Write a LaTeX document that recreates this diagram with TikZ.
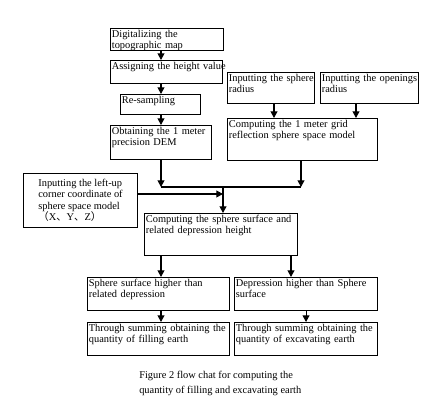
\documentclass[tikz,border=0pt]{standalone}
\usepackage{fontspec}
\setmainfont{Liberation Serif}
\newfontfamily\cjk{Noto Sans CJK SC}
\usetikzlibrary{arrows.meta}

\begin{document}
\begin{tikzpicture}[
    x=0.75pt, y=-0.75pt,
    framed/.style={draw, line width=0.8pt, anchor=north west, align=left,
      font=\fontsize{7.8}{8.3}\selectfont},
    box/.style={framed, inner xsep=1pt, inner ysep=0.75pt, text height=6pt},
    arrow/.style={-{Triangle[width=5.2pt,length=5pt]}, line width=0.8pt},
    note/.style={anchor=north west, align=left, inner sep=0pt,
      font=\fontsize{7.8}{11.25}\selectfont},
  ]
    \useasboundingbox (0,0) rectangle (433,406);
    % left column
    \node[box, text width=82.75pt, text depth=9pt]  (dig)    at (110,28)  {Digitalizing the\\topographic map};
    \node[box, text width=82pt, text depth=9.75pt]  (assign) at (110,60)  {\mbox{Assigning the height value}};
    \node[box, text width=58pt, text depth=7.5pt]   (resamp) at (120,94)  {Re-sampling};
    \node[box, text width=73.75pt, text depth=18pt] (dem)    at (110,125) {Obtaining the 1 meter\\precision DEM};
    % right column
    \node[box, text width=63.25pt, text depth=15.75pt] (sradius) at (227,72)  {\mbox{Inputting the sphere}\\radius};
    \node[box, text width=71.5pt, text depth=15.75pt]  (oradius) at (320,72)  {\mbox{Inputting the openings}\\radius};
    \node[box, text width=110.5pt, text depth=24pt]    (grid)    at (227,118) {Computing the 1 meter grid\\reflection sphere space model};
    % corner input
    \node[framed, minimum width=85.5pt, minimum height=40.5pt,
      font=\fontsize{7.8}{8.6}\selectfont] (corner) at (23,173)
      {Inputting the left-up\\corner coordinate of\\sphere space model\\{\cjk （}X{\cjk 、}Y{\cjk 、}Z{\cjk ）}};
    % lower part
    \node[box, text width=112.75pt, text depth=24pt]   (surf)   at (144,213) {Computing the sphere surface and\\related depression height};
    \node[box, text width=104.5pt, text depth=17.25pt] (higher) at (87,277)  {Sphere surface higher than\\related depression};
    \node[box, text width=105.25pt, text depth=17.25pt] (deeper) at (234,277) {Depression higher than Sphere\\surface};
    \node[box, text width=104.5pt, text depth=17.25pt] (fill)   at (87,322)  {Through summing obtaining the\\quantity of filling earth};
    \node[box, text width=105.25pt, text depth=17.25pt] (excav)  at (234,322) {Through summing obtaining the\\quantity of excavating earth};
    \node[note] (caption) at (139,371) {Figure 2 flow chat for computing the\\quantity of filling and excavating earth};

    \coordinate (jl) at (161,187);
    \coordinate (jm) at (223,187);
    \coordinate (jr) at (301,187);
    \coordinate (ja) at (223,194);
    \coordinate (cs) at (274,110);
    \coordinate (co) at (356,110);
    \coordinate (cd) at (291,266);

    \draw[arrow] (dig.south -| jl)    -- (assign.north -| jl);
    \draw[arrow] (assign.south -| jl) -- (resamp.north -| jl);
    \draw[arrow] (resamp.south -| jl) -- (dem.north -| jl);
    \draw[arrow] (dem.south -| jl)    -- (jl);
    \draw[arrow] (sradius.south -| cs) -- (grid.north -| cs);
    \draw[arrow] (oradius.south -| co) -- (grid.north -| co);
    \draw[arrow] (grid.south -| jr)   -- (jr);
    \draw[line width=0.8pt] (jl) -- (jr);
    \draw[arrow] (corner.east |- ja)  -- (ja);
    \draw[arrow] (jm) -- (surf.north -| jm);
    \draw[arrow] (surf.south -| jl)   -- (higher.north -| jl);
    \draw[arrow] (surf.south -| cd)   -- (deeper.north -| cd);
    \draw[arrow] (higher.south -| jl) -- (fill.north -| jl);
    \draw[arrow] (deeper.south)       -- (excav.north);
  \end{tikzpicture}
\end{document}
